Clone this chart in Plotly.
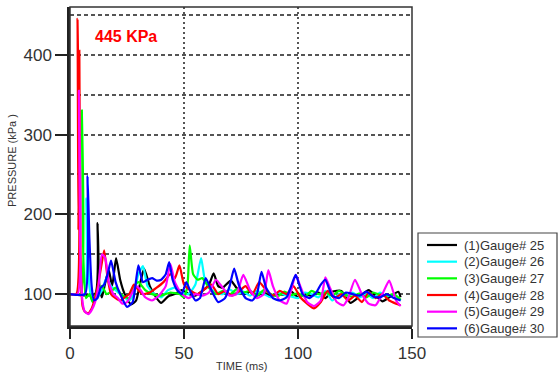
import plotly.graph_objects as go

# ---- data ----
names = ["(1)Gauge# 25", "(2)Gauge# 26", "(3)Gauge# 27", "(4)Gauge# 28", "(5)Gauge# 29", "(6)Gauge# 30"]
colors = ["#000000", "#00FFFF", "#00FF00", "#FF0000", "#FF00FF", "#0000FF"]

t1 = [0, 11.0, 12.1, 12.9, 14, 15.5, 17, 18.5, 20.2, 22, 24, 26.8, 29, 30.5, 32.5, 35, 38, 40, 43, 46, 49, 52, 55, 58, 61, 63, 65, 67, 70.5, 73, 76, 79, 82, 85, 88, 91, 94, 97, 100, 103, 106, 109, 112, 115, 119, 123, 127, 131, 134, 137, 140, 144, 145]
p1 = [100, 100, 189, 110, 96, 115, 130, 110, 145, 118, 100, 87, 92, 110, 132, 110, 95, 89, 97, 100, 105, 100, 98, 104, 112, 126, 110, 108, 117, 108, 100, 103, 98, 102, 97, 100, 99, 103, 96, 100, 98, 102, 95, 103, 104, 89, 97, 105, 98, 91, 96, 103, 96]

t2 = [0, 6.3, 7.2, 8.5, 10, 12, 14, 16, 18, 20, 23, 26, 28, 30, 32, 34, 37, 40, 43, 46, 49, 52, 55, 57.5, 59, 61, 64, 67, 70, 73, 76, 79, 82, 85, 88, 91, 94, 97, 100, 103, 106, 109, 112, 115, 118, 121, 124, 127, 130, 133, 136, 139, 142, 145]
p2 = [100, 100, 220, 110, 90, 95, 105, 120, 110, 105, 98, 92, 100, 125, 135, 110, 100, 96, 105, 108, 102, 100, 112, 145, 120, 108, 102, 100, 106, 100, 103, 98, 104, 100, 96, 102, 99, 97, 95, 102, 100, 96, 104, 92, 100, 98, 102, 96, 100, 95, 102, 97, 100, 92]

t3 = [0, 4.6, 5.2, 5.8, 7, 8.5, 10, 12, 14, 16, 18, 20, 23, 26, 28, 30, 33, 36, 40, 44, 48, 50, 51.5, 52.5, 54, 56, 58, 61, 64, 67, 70, 73, 76, 79, 82, 85, 88, 91, 94, 97, 100, 103, 106, 109, 112, 115, 118, 121, 124, 127, 130, 133, 136, 139, 142, 145]
p3 = [100, 100, 330, 150, 95, 100, 90, 105, 110, 100, 103, 108, 98, 95, 110, 115, 105, 100, 98, 102, 100, 96, 110, 161, 125, 118, 120, 108, 100, 104, 99, 106, 102, 104, 98, 105, 100, 97, 103, 99, 101, 97, 104, 100, 102, 98, 104, 99, 97, 101, 96, 102, 99, 98, 100, 93]

t4 = [0, 2.8, 3.3, 3.7, 4.1, 4.6, 5.5, 6.5, 8, 9.5, 11, 12.5, 14, 15, 16.5, 18, 20, 22, 24, 26, 28, 30, 32, 35, 38, 41, 44, 46, 48, 50, 53, 56, 59, 62, 65, 68, 71, 74, 77, 80, 83, 86, 89, 92, 95, 98, 101, 104, 107, 110, 113, 116, 119, 122, 125, 128, 131, 134, 137, 140, 143, 145]
p4 = [100, 100, 445, 180, 405, 150, 85, 78, 76, 82, 95, 115, 140, 155, 120, 100, 95, 92, 96, 100, 112, 105, 100, 102, 108, 115, 125, 120, 136, 112, 104, 100, 106, 112, 100, 104, 98, 103, 110, 100, 115, 105, 98, 104, 100, 110, 96, 88, 82, 90, 104, 95, 100, 92, 98, 90, 102, 95, 100, 92, 88, 86]

t5 = [0, 3.4, 3.9, 4.5, 5.5, 6.5, 8, 9.5, 11, 12.5, 14, 15.5, 17, 19, 21, 23, 25, 27, 29, 31, 33, 36, 39, 42, 44, 46, 49, 52, 55, 58, 61, 64, 67, 70, 73, 76, 79, 82, 85, 87, 89, 92, 95, 97, 99, 101, 104, 107, 110, 112, 114, 117, 120, 122, 125, 128, 131, 134, 137, 140, 143, 145]
p5 = [100, 100, 355, 150, 90, 78, 75, 80, 90, 110, 150, 145, 115, 100, 95, 88, 90, 100, 110, 105, 96, 92, 98, 110, 138, 115, 100, 95, 100, 98, 102, 118, 108, 98, 100, 124, 105, 95, 100, 130, 110, 92, 88, 105, 124, 110, 90, 85, 92, 121, 108, 90, 86, 95, 118, 100, 88, 86, 100, 117, 92, 85]

t6 = [0, 6.6, 7.7, 8.5, 9.5, 10.5, 12, 13.5, 15, 16.5, 18, 20, 22, 25, 27.5, 30, 32, 34, 36, 38, 40, 42, 43.5, 45, 47, 49, 51, 53, 55, 57, 59.5, 62, 65, 68, 70, 72, 74, 77, 80, 82, 84, 86, 89, 92, 95, 97, 99, 102, 105, 108, 110, 112, 115, 118, 121, 124, 127, 130, 133, 136, 139, 142, 145]
p6 = [100, 100, 248, 170, 110, 92, 95, 108, 112, 125, 142, 115, 100, 84, 90, 136, 115, 118, 120, 117, 118, 125, 140, 118, 105, 100, 115, 102, 92, 95, 120, 105, 90, 95, 110, 132, 112, 95, 92, 100, 128, 108, 95, 92, 96, 110, 124, 100, 95, 102, 112, 118, 98, 95, 102, 100, 98, 103, 97, 96, 100, 95, 92]

times = [t1, t2, t3, t4, t5, t6]
pressures = [p1, p2, p3, p4, p5, p6]

x_ticks = [0, 50, 100, 150]
y_ticks = [100, 200, 300, 400]

FONT = "Arial, Liberation Sans, sans-serif"

fig = go.Figure()
for name, col, tt, pp in zip(names, colors, times, pressures):
    fig.add_trace(go.Scatter(x=tt, y=pp, mode="lines", name=name, showlegend=False,
                             line=dict(color=col, width=2.2, shape="spline", smoothing=0.5)))

fig.add_annotation(x=24.5, y=423, xref="x", yref="y", text="<b>445 KPa</b>",
                   showarrow=False, font=dict(color="#FF0000", size=16, family=FONT))
fig.add_annotation(x=-0.17, y=0.52, xref="paper", yref="paper", text="PRESSURE (kPa )",
                   textangle=-90, showarrow=False, xanchor="center", yanchor="middle",
                   font=dict(size=11, color="#333333", family=FONT))
fig.add_annotation(x=0.5, y=-0.125, xref="paper", yref="paper", text="TIME (ms)",
                   showarrow=False, xanchor="center", yanchor="middle",
                   font=dict(size=11, color="#333333", family=FONT))

# thin frame on top / right
fig.add_shape(type="rect", xref="paper", yref="paper", x0=0, y0=0, x1=1, y1=1,
              line=dict(color="#333333", width=1.5), layer="above")

# ---- compact legend box (plot area: x 70..412 px, y 7..326 px) ----
PL, PW, PB, PH = 70.0, 342.0, 326.0, 319.0
def px_x(v):
    return (v - PL) / PW
def px_y(v):
    return (PB - v) / PH

fig.add_shape(type="rect", xref="paper", yref="paper",
              x0=px_x(418), x1=px_x(557), y0=px_y(337), y1=px_y(233),
              line=dict(color="#444444", width=1.2), fillcolor="white", layer="above")
for i, (name, col) in enumerate(zip(names, colors)):
    yc = 245 + 16.67 * i
    fig.add_shape(type="line", xref="paper", yref="paper",
                  x0=px_x(427), x1=px_x(457), y0=px_y(yc), y1=px_y(yc),
                  line=dict(color=col, width=2.2), layer="above")
    fig.add_annotation(x=px_x(462), y=px_y(yc), xref="paper", yref="paper", text=name,
                       showarrow=False, xanchor="left", yanchor="middle",
                       font=dict(size=13, color="#333333", family=FONT))

fig.update_layout(
    width=558, height=376,
    margin=dict(l=70, r=146, t=7, b=50, autoexpand=False),
    paper_bgcolor="white", plot_bgcolor="white",
    font=dict(family=FONT, color="#333333"),
    showlegend=False,
    xaxis=dict(range=[0, 150], tickvals=x_ticks, ticks="outside", ticklen=10,
               tickwidth=2, tickcolor="#222222", showline=True, linecolor="#222222",
               linewidth=2.5, showgrid=True, gridcolor="#555555", gridwidth=1.5,
               griddash="2px,3px", zeroline=False, tickfont=dict(size=17),
               automargin=False),
    yaxis=dict(range=[60, 460], tickvals=y_ticks, ticks="outside", ticklen=12,
               tickwidth=2, tickcolor="#222222", showline=True, linecolor="#222222",
               linewidth=2.5, showgrid=True, gridcolor="#555555", gridwidth=1.5,
               griddash="4px,3px", zeroline=False, tickfont=dict(size=17),
               minor=dict(dtick=50, tick0=0, showgrid=True, gridcolor="#555555",
                          gridwidth=1.5, griddash="4px,3px", ticks=""),
               automargin=False),
)

fig.write_html("out.html", config={"displayModeBar": False},
               post_script="document.body.style.margin='0px';document.body.style.overflow='hidden';")
